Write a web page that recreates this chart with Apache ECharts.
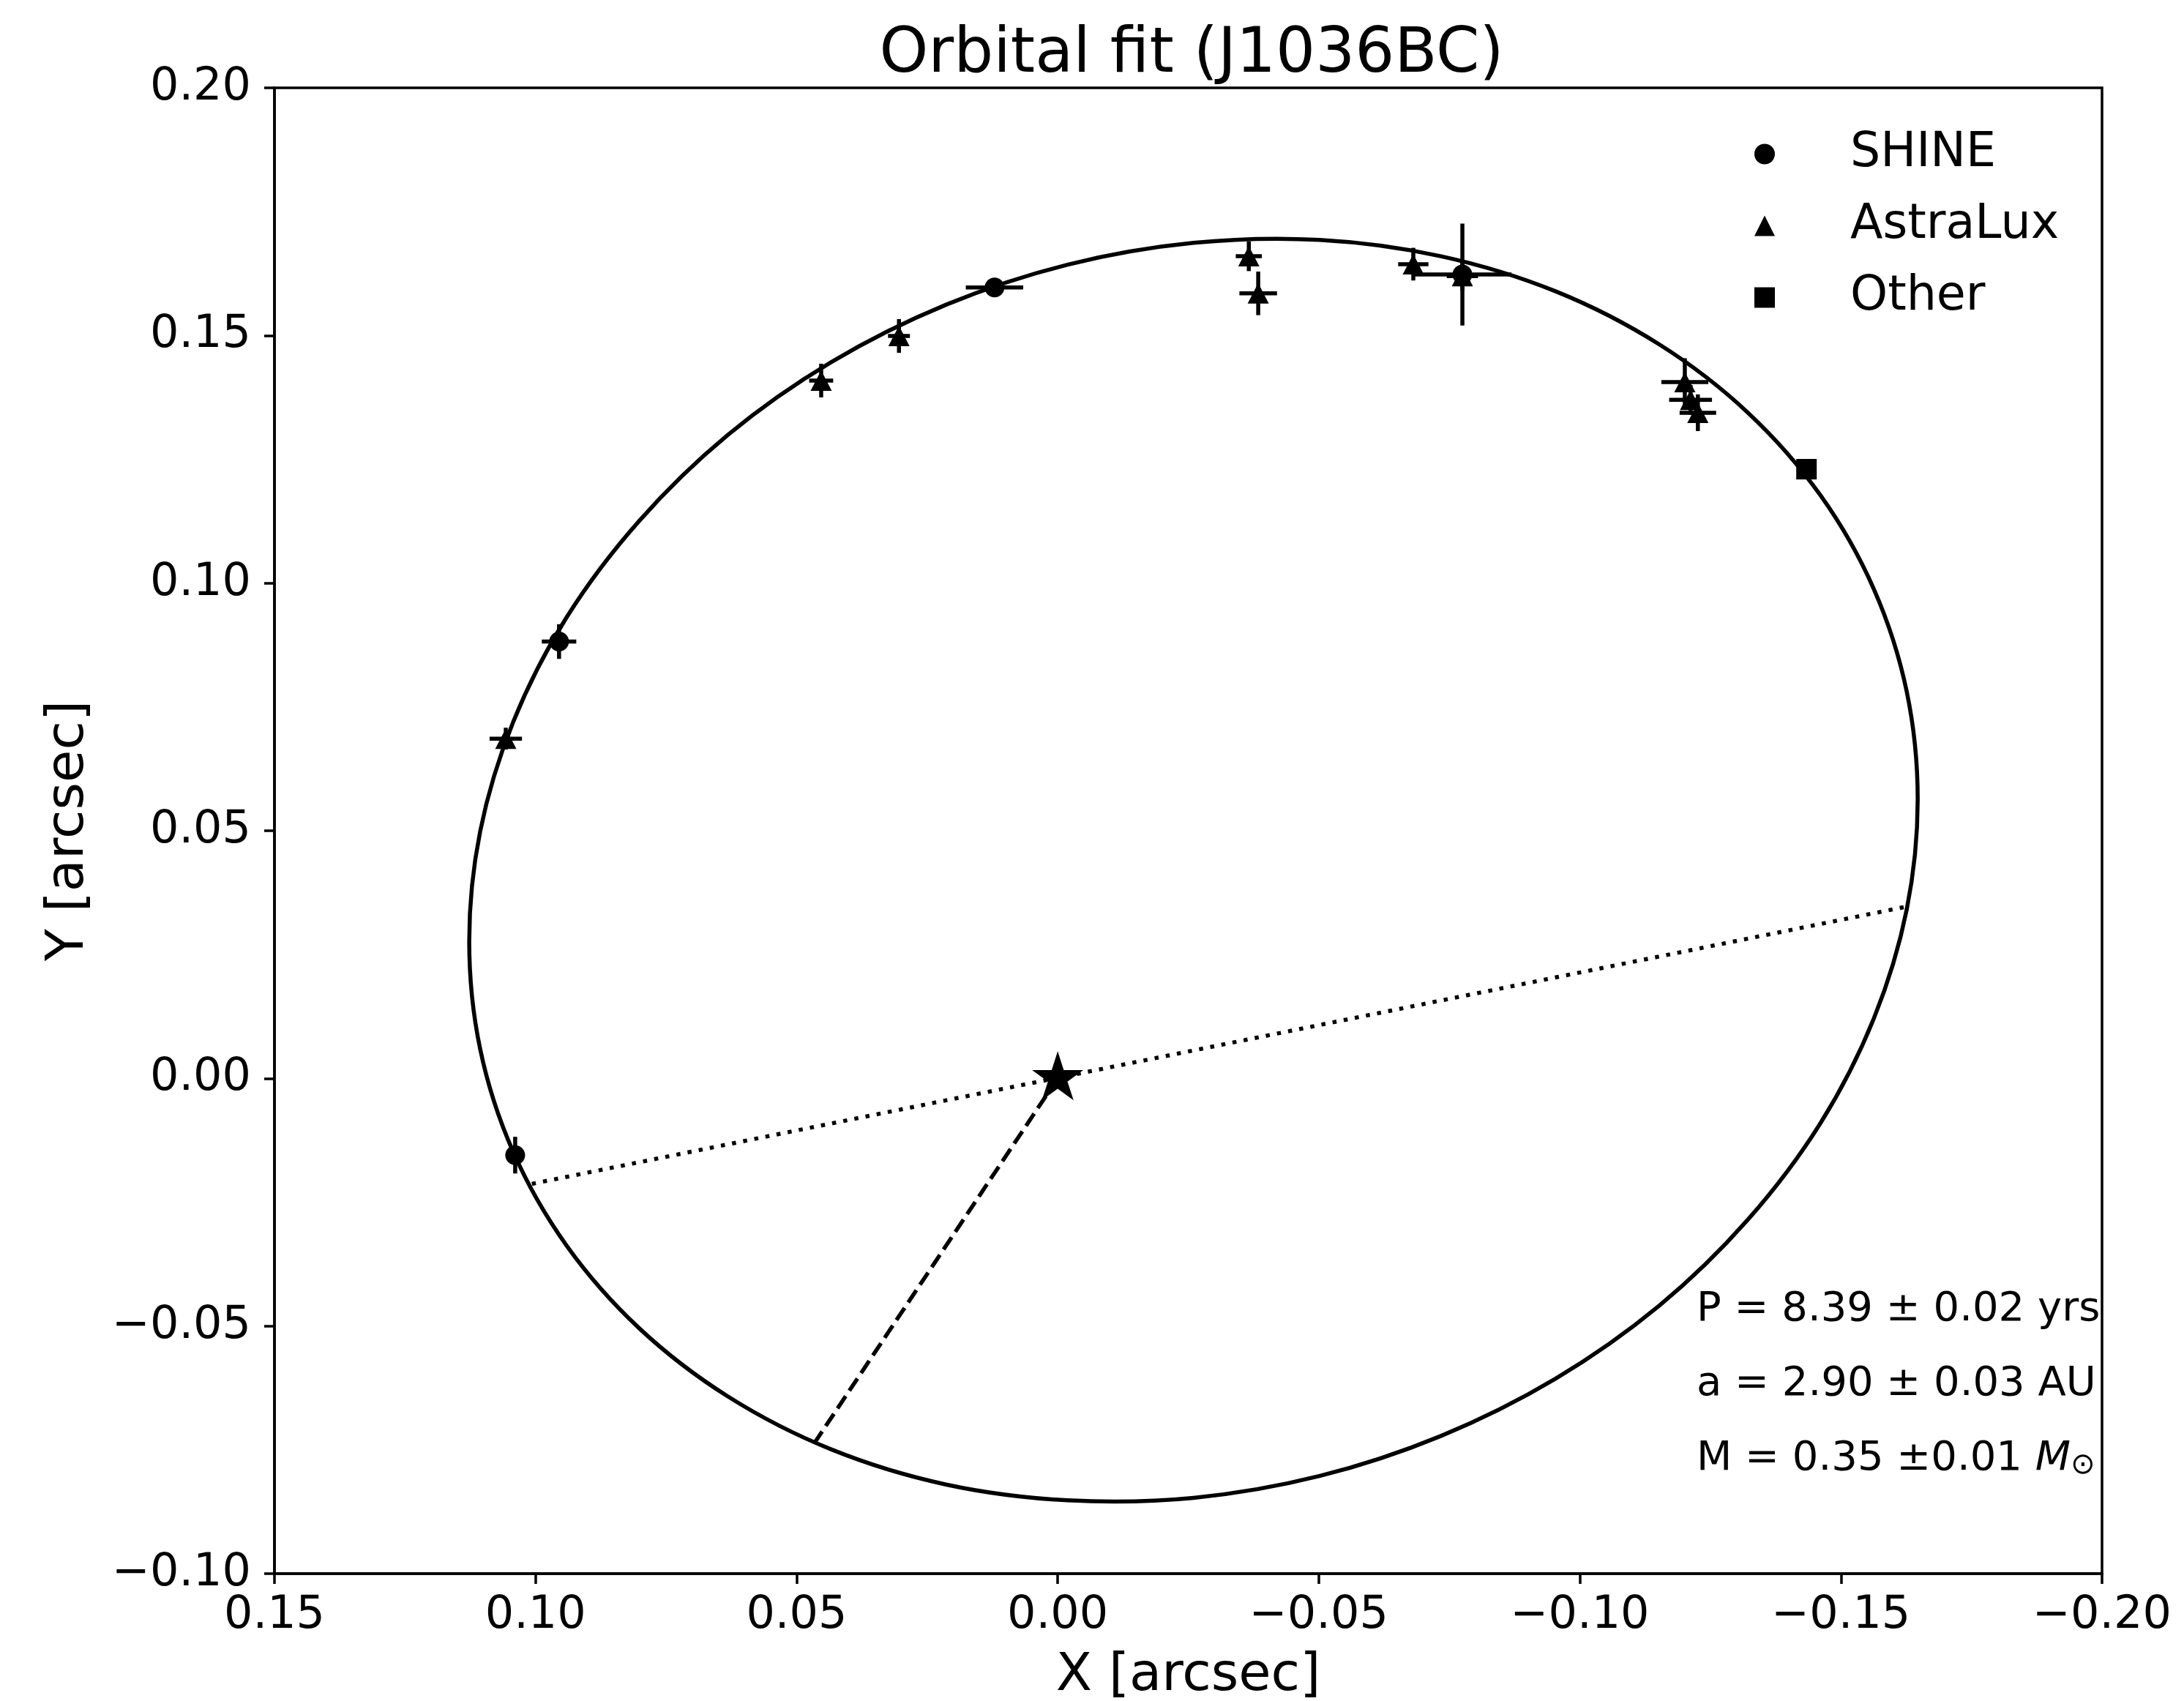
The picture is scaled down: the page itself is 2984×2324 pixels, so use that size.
<!DOCTYPE html>
<html>
<head>
<meta charset="utf-8">
<title>Orbital fit (J1036BC)</title>
<script src="https://cdn.jsdelivr.net/npm/echarts@6/dist/echarts.min.js"></script>
<style>
  html, body { margin: 0; padding: 0; background: #fff; }
  #chart { width: 2984px; height: 2324px; }
</style>
</head>
<body>
<div id="chart"></div>
<script>
// ---- data (arcsec) ----
// SHINE epochs
const shineX    = [0.0121, 0.0955, 0.1039, -0.0775];
const shineY    = [0.1597, 0.0882, -0.0155, 0.1623];
const shineXerr = [0.0055, 0.0033, 0.0015, 0.0094];
const shineYerr = [0.0015, 0.0035, 0.0037, 0.0103];

// AstraLux epochs
const astraX    = [0.1057, 0.0453, 0.0304, -0.0366, -0.0384, -0.0681, -0.0775, -0.1201, -0.1212, -0.1226];
const astraY    = [0.0686, 0.1409, 0.1499, 0.1660, 0.1585, 0.1644, 0.1620, 0.1406, 0.1370, 0.1344];
const astraXerr = [0.0031, 0.0023, 0.0021, 0.0025, 0.0036, 0.0029, 0.0030, 0.0045, 0.0041, 0.0035];
const astraYerr = [0.0022, 0.0034, 0.0034, 0.0030, 0.0044, 0.0033, 0.0030, 0.0048, 0.0030, 0.0037];

// other literature epoch
const otherX    = [-0.1434];
const otherY    = [0.1230];
const otherXerr = [0.0010];
const otherYerr = [0.0010];

// best-fit orbit, points traced along the drawn ellipse (closed curve)
const orbitX = [0.1127, 0.1106, 0.1043, 0.0941, 0.0802, 0.0632, 0.0434, 0.0214, -0.0019, -0.0260,
                -0.0501, -0.0734, -0.0954, -0.1152, -0.1322, -0.1461, -0.1563, -0.1626, -0.1647, -0.1626,
                -0.1563, -0.1461, -0.1322, -0.1152, -0.0954, -0.0734, -0.0501, -0.0260, -0.0019, 0.0214,
                0.0434, 0.0632, 0.0802, 0.0941, 0.1043, 0.1106];
const orbitY = [0.0277, 0.0499, 0.0719, 0.0930, 0.1125, 0.1299, 0.1446, 0.1562, 0.1643, 0.1687,
                0.1693, 0.1660, 0.1589, 0.1482, 0.1344, 0.1177, 0.0988, 0.0781, 0.0563, 0.0341,
                0.0121, -0.0090, -0.0285, -0.0459, -0.0606, -0.0722, -0.0803, -0.0847, -0.0852, -0.0820,
                -0.0749, -0.0642, -0.0504, -0.0337, -0.0148, 0.0059];

// line of nodes (dotted) and star -> periastron (dashed)
const nodesX = [0.1007, -0.1622];
const nodesY = [-0.0213, 0.0346];
const periX  = [0.0, 0.0467];
const periY  = [0.0, -0.0738];

const fitText = [
  'P = 8.39 \u00b1 0.02 yrs',
  'a = 2.90 \u00b1 0.03 AU',
  'M = 0.35 \u00b10.01 '
];

const FONT = 'DejaVu Sans';
const zip = (a, b) => a.map((v, i) => [v, b[i]]);

// error bars drawn as plain crosses (no caps)
function errorBars(xs, ys, xe, ye) {
  return {
    type: 'custom',
    silent: true,
    z: 4,
    encode: { x: 0, y: 1 },
    data: xs.map((v, i) => [v, ys[i], xe[i], ye[i]]),
    renderItem: function (params, api) {
      const x = api.value(0), y = api.value(1), dx = api.value(2), dy = api.value(3);
      const l = api.coord([x - dx, y]), r = api.coord([x + dx, y]);
      const t = api.coord([x, y + dy]), b = api.coord([x, y - dy]);
      const st = { stroke: '#000', lineWidth: 5.5 };
      return {
        type: 'group',
        children: [
          { type: 'line', shape: { x1: l[0], y1: l[1], x2: r[0], y2: r[1] }, style: st },
          { type: 'line', shape: { x1: t[0], y1: t[1], x2: b[0], y2: b[1] }, style: st }
        ]
      };
    }
  };
}

const tickFmt = v => (Math.abs(v) < 1e-9 ? 0 : v).toFixed(2).replace('-', '\u2212');

const starPath = 'path://M0,-100 L22.45,-30.9 L95.1,-30.9 L36.33,11.8 L58.78,80.9 L0,38.2 L-58.78,80.9 L-36.33,11.8 L-95.1,-30.9 L-22.45,-30.9 Z';

const chart = echarts.init(document.getElementById('chart'));

const option = {
  animation: false,
  backgroundColor: '#fff',
  textStyle: { fontFamily: FONT },
  title: {
    text: 'Orbital fit (J1036BC)',
    left: 1623,
    top: 28,
    textAlign: 'center',
    textStyle: { fontFamily: FONT, fontSize: 85, fontWeight: 'normal', color: '#000' }
  },
  grid: {
    left: 375, right: 112, top: 120, bottom: 174,
    outerBoundsMode: 'none',
    containLabel: false,
    show: true, borderColor: '#000', borderWidth: 3.5, backgroundColor: 'transparent'
  },
  legend: {
    orient: 'vertical',
    left: 2397,
    top: 178,
    padding: 0,
    itemGap: 33,
    itemWidth: 28,
    itemHeight: 28,
    data: [
      { name: 'SHINE', icon: 'circle' },
      { name: 'AstraLux', icon: 'triangle' },
      { name: 'Other', icon: 'rect' }
    ],
    textStyle: { fontFamily: FONT, fontSize: 65, color: '#000', padding: [0, 0, 0, 98] }
  },
  xAxis: {
    type: 'value',
    inverse: true,
    min: -0.2, max: 0.15, interval: 0.05,
    name: 'X [arcsec]',
    nameLocation: 'middle',
    nameGap: 104,
    nameTextStyle: { fontFamily: FONT, fontSize: 72, color: '#000' },
    axisLine: { show: true, onZero: false, lineStyle: { color: '#000', width: 3.5 } },
    axisTick: { show: true, inside: false, length: 14, lineStyle: { color: '#000', width: 3.5 } },
    axisLabel: { show: true, margin: 27, fontFamily: FONT, fontSize: 62, color: '#000',
                 showMinLabel: true, showMaxLabel: true, formatter: tickFmt },
    splitLine: { show: false }
  },
  yAxis: {
    type: 'value',
    min: -0.1, max: 0.2, interval: 0.05,
    name: 'Y [arcsec]',
    nameLocation: 'middle',
    nameGap: 245,
    nameRotate: 90,
    nameTextStyle: { fontFamily: FONT, fontSize: 72, color: '#000' },
    axisLine: { show: true, onZero: false, lineStyle: { color: '#000', width: 3.5 } },
    axisTick: { show: true, inside: false, length: 14, lineStyle: { color: '#000', width: 3.5 } },
    axisLabel: { show: true, margin: 32, fontFamily: FONT, fontSize: 62, color: '#000',
                 showMinLabel: true, showMaxLabel: true, formatter: tickFmt },
    splitLine: { show: false }
  },
  series: [
    {
      // closed orbit drawn as a smoothed polygon through the traced points
      name: 'orbit',
      type: 'custom',
      z: 1,
      silent: true,
      data: [[orbitX[0], orbitY[0]]],
      renderItem: function (params, api) {
        const pts = orbitX.map((x, i) => api.coord([x, orbitY[i]]));
        return {
          type: 'polygon',
          shape: { points: pts, smooth: 0.333 },
          style: { fill: 'none', stroke: '#000', lineWidth: 5.5 }
        };
      }
    },
    {
      name: 'nodes',
      type: 'line',
      z: 1,
      showSymbol: false,
      silent: true,
      data: zip(nodesX, nodesY),
      lineStyle: { color: '#000', width: 5.5, type: [5.5, 10], cap: 'butt' }
    },
    {
      name: 'periastron',
      type: 'line',
      z: 1,
      showSymbol: false,
      silent: true,
      data: zip(periX, periY),
      lineStyle: { color: '#000', width: 5.5, type: [20, 9], cap: 'butt' }
    },
    {
      name: 'star',
      type: 'scatter',
      z: 3,
      silent: true,
      data: [[0, 0]],
      symbol: starPath,
      symbolSize: [70, 67],
      symbolOffset: [0, -3.5],
      itemStyle: { color: '#000', opacity: 1 }
    },
    errorBars(shineX, shineY, shineXerr, shineYerr),
    errorBars(astraX, astraY, astraXerr, astraYerr),
    errorBars(otherX, otherY, otherXerr, otherYerr),
    {
      name: 'SHINE',
      type: 'scatter',
      z: 5,
      symbol: 'circle',
      symbolSize: 27,
      data: zip(shineX, shineY),
      itemStyle: { color: '#000', opacity: 1 }
    },
    {
      name: 'AstraLux',
      type: 'scatter',
      z: 5,
      symbol: 'triangle',
      symbolSize: [29, 28],
      data: zip(astraX, astraY),
      itemStyle: { color: '#000', opacity: 1 }
    },
    {
      name: 'Other',
      type: 'scatter',
      z: 5,
      symbol: 'rect',
      symbolSize: 28,
      data: zip(otherX, otherY),
      itemStyle: { color: '#000', opacity: 1 }
    }
  ],
  graphic: [
    { type: 'text', x: 2318, y: 1789, z: 10,
      style: { text: fitText[0], font: '56px "DejaVu Sans"', fill: '#000', verticalAlign: 'middle' } },
    { type: 'text', x: 2318, y: 1891, z: 10,
      style: { text: fitText[1], font: '56px "DejaVu Sans"', fill: '#000', verticalAlign: 'middle' } },
    { type: 'text', x: 2318, y: 1993, z: 10,
      style: {
        text: '{n|' + fitText[2] + '}{i|M}{s|\u2299}',
        fill: '#000',
        verticalAlign: 'middle',
        rich: {
          n: { fontFamily: FONT, fontSize: 56, lineHeight: 60 },
          i: { fontFamily: FONT, fontSize: 56, fontStyle: 'italic', lineHeight: 60 },
          s: { fontFamily: FONT, fontSize: 40, lineHeight: 60, verticalAlign: 'bottom', padding: [14, 0, 0, 0] }
        }
      } }
  ]
};

chart.setOption(option);
</script>
</body>
</html>
